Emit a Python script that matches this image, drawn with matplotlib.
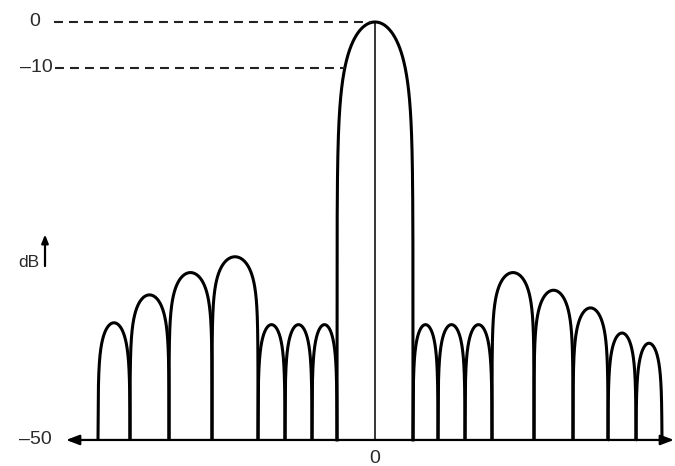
import numpy as np
import matplotlib
matplotlib.use("Agg")
import matplotlib.pyplot as plt

# null positions (x offsets from boresight) and peak levels (dB) of each lobe
left_nulls = [-277, -245, -206, -163, -117, -90, -63, -38]
left_peaks = [-37.4, -34.4, -32.0, -30.3, -37.6, -37.6, -37.6]
main_nulls = [-38, 38]
main_peak = 0.0
right_nulls = [38, 63, 90, 117, 159, 198, 233, 261, 287]
right_peaks = [-37.6, -37.6, -37.6, -32.0, -33.9, -35.8, -38.5, -39.6]

y_ticks = [0, -10, -50]
y_tick_labels = ["0", "\u201310", "\u201350"]
floor_db = -50


# the drawing squeezes the scale above -10 dB
def fwd(d):
    d = np.asarray(d, dtype=float)
    return np.where(d >= -10, 4.6 * d, -46 + 9.3 * (d + 10))


def inv(v):
    v = np.asarray(v, dtype=float)
    return np.where(v >= -46, v / 4.6, (v + 46) / 9.3 - 10)


def lobe(x0, x1, peak, k):
    # arch shape drawn smooth on the page: drop of k*log10(sin) in scale units
    t = np.linspace(0, 1, 800)
    s = np.maximum(np.sin(np.pi * t), 1e-12)
    v = np.maximum(fwd(peak) + k * np.log10(s), fwd(floor_db))
    return x0 + t * (x1 - x0), inv(v)


fig = plt.figure(figsize=(6.75, 4.66), dpi=100)
ax = fig.add_axes([0, 0, 1, 1])
ax.set_yscale('function', functions=(fwd, inv))
ax.set_xlim(-375, 300)
ax.set_ylim(-52.8, 4.78)
ax.axis('off')

lw = 2.2
for nulls, peaks in [(left_nulls, left_peaks), (right_nulls, right_peaks)]:
    for x0, x1, p in zip(nulls[:-1], nulls[1:], peaks):
        x, d = lobe(x0, x1, p, 46)
        ax.plot(x, d, color='black', lw=lw, solid_capstyle='butt')

x, d = lobe(main_nulls[0], main_nulls[1], main_peak, 92)
ax.plot(x, d, color='black', lw=lw)
ax.plot([0, 0], [floor_db, main_peak], color='black', lw=1.1)

# dashed reference lines
dash = (0, (4.3, 2.9))
ax.plot([-321, -4], [0, 0], color='#222222', lw=1.5, linestyle=dash)
xm10 = main_nulls[0] + (main_nulls[1] - main_nulls[0]) * np.arcsin(10 ** (-10 / 20)) / np.pi
ax.plot([-320, xm10], [-10, -10], color='#222222', lw=1.5, linestyle=dash)

# baseline with arrows at both ends
ax.annotate('', xy=(-309, floor_db), xytext=(299, floor_db),
            arrowprops=dict(arrowstyle='<|-|>,head_length=0.8,head_width=0.3',
                            color='black', lw=1.6, shrinkA=0, shrinkB=0))

# tick labels
tick_kw = dict(va='center', fontsize=14, color='#2a2a2a', family='Liberation Sans')
ax.text(-340, y_ticks[0], y_tick_labels[0], ha='center', **tick_kw)
ax.text(-322, y_ticks[1], y_tick_labels[1], ha='right', **tick_kw)
ax.text(-323, y_ticks[2], y_tick_labels[2], ha='right', **tick_kw)
ax.text(0, -51.1, "0", ha='center', va='top', fontsize=14, color='#2a2a2a',
        family='Liberation Sans')

# dB label with little up arrow
ax.text(-336, -30.9, "dB", ha='right', va='center', fontsize=12.5, color='#2a2a2a',
        family='Liberation Sans')
ax.annotate('', xy=(-330, -27.9), xytext=(-330, -31.3),
            arrowprops=dict(arrowstyle='-|>,head_length=0.5,head_width=0.2',
                            color='black', lw=1.6, shrinkA=0, shrinkB=0))

fig.savefig('out.png', dpi=100, facecolor='white')
